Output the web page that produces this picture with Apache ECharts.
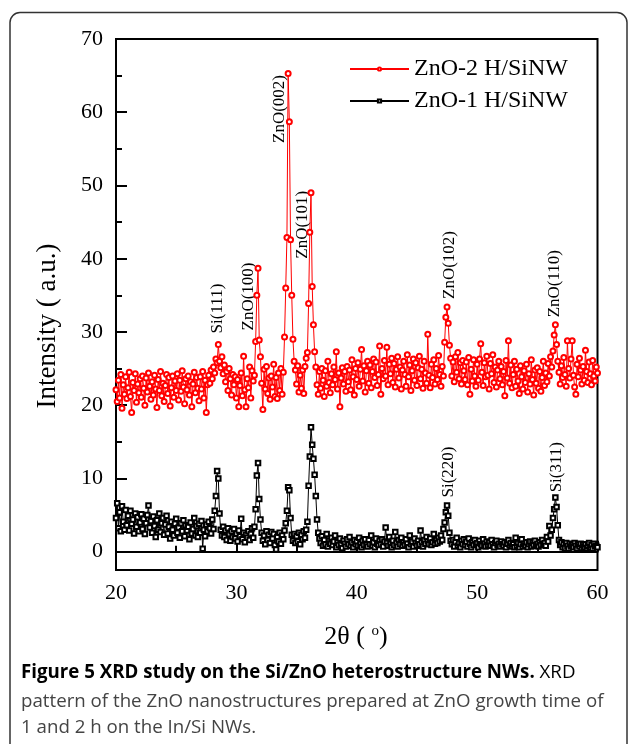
<!DOCTYPE html>
<html><head><meta charset="utf-8">
<script src="https://cdn.jsdelivr.net/npm/echarts@6/dist/echarts.min.js"></script>
<style>html,body{margin:0;padding:0;background:#fff}#c{width:629px;height:744px}</style>
</head><body><div id="c"></div>
<script>
// 2-theta scan: start 20.0 deg, step 0.1 deg
const scanStart = 20.0;
const scanStep = 0.1;
const seriesNames = ['ZnO-2 H/SiNW', 'ZnO-1 H/SiNW'];
// ZnO-2 H/SiNW intensities
const zno2h = [
22.1,20.5,23.4,21.0,24.2,19.6,22.8,21.5,23.9,20.9,
22.4,24.5,21.2,19.0,23.1,22.0,24.3,20.4,22.9,21.7,
23.6,21.1,24.0,22.3,20.0,23.7,21.8,24.4,22.6,20.8,
23.2,21.4,24.1,22.2,19.7,23.5,22.0,24.6,21.3,23.0,
20.5,22.7,24.2,21.6,23.8,19.9,22.4,24.0,21.1,23.3,
22.0,24.3,20.7,23.4,21.9,24.7,22.5,20.2,23.6,22.1,
24.0,21.4,23.2,19.8,22.9,24.5,21.7,23.8,22.3,20.6,
23.9,22.2,24.6,21.0,23.4,19.0,22.8,24.1,23.0,24.8,
23.6,25.2,24.4,26.3,25.8,28.3,26.0,25.1,26.6,24.3,
25.5,23.2,24.6,22.0,25.0,23.6,21.4,24.2,22.8,23.9,
21.0,23.5,19.8,22.7,24.4,21.3,26.7,22.1,19.8,23.6,
22.4,25.2,21.0,24.7,23.3,24.1,28.7,35.0,38.7,28.9,
26.6,23.0,19.4,24.9,22.2,25.3,21.6,23.7,20.8,24.0,
22.5,25.6,21.2,23.8,20.9,24.4,22.0,25.0,21.5,24.5,
29.3,36.0,42.9,65.3,58.7,42.6,35.0,29.0,26.0,24.8,
22.9,25.4,21.8,24.1,22.3,24.8,21.6,25.3,26.4,27.2,
33.9,43.6,49.0,36.2,31.0,27.3,25.2,22.8,21.5,24.6,
22.3,25.0,23.4,21.2,24.7,22.6,26.0,23.1,21.7,24.3,
22.8,25.2,23.5,27.3,22.2,24.4,19.8,23.7,25.1,22.9,
24.6,21.9,25.3,23.2,24.8,22.1,26.2,23.9,21.4,25.0,
23.5,25.8,22.6,24.9,27.6,23.3,25.4,21.8,24.7,26.0,
23.0,25.5,22.4,24.6,26.3,23.8,25.9,22.7,24.2,28.1,
21.5,25.0,23.6,26.1,24.0,27.9,22.8,25.6,24.3,26.4,
23.1,25.7,22.5,24.9,26.6,23.7,25.2,22.2,24.8,26.0,
24.2,22.6,26.9,23.9,25.5,22.0,24.7,26.3,23.4,25.8,
22.7,25.1,26.7,23.6,24.9,22.3,26.0,24.4,23.0,29.7,
24.1,22.4,25.6,23.8,26.2,22.9,25.0,23.5,26.8,24.2,
22.6,25.3,24.0,28.6,32.0,33.4,31.2,28.2,26.4,24.0,
25.9,23.2,26.6,24.5,27.2,23.6,25.8,22.9,26.1,24.7,
23.5,25.9,22.8,26.5,21.5,24.9,23.3,26.2,24.0,22.6,
25.6,23.4,26.3,28.4,24.5,22.7,25.8,23.9,26.7,24.1,
22.2,25.7,24.3,26.9,23.1,25.2,22.5,24.8,26.0,23.6,
25.3,22.8,24.6,21.3,26.1,23.7,28.8,23.0,25.5,22.4,
24.2,26.0,22.6,24.9,23.3,21.6,25.4,23.9,22.2,24.7,
23.1,25.6,21.8,24.3,22.9,26.2,23.5,21.4,24.8,23.0,
25.1,22.3,24.6,21.9,23.8,26.0,22.7,24.4,23.2,25.7,
24.0,26.6,25.2,27.4,29.6,31.0,28.3,26.0,24.5,22.9,
25.4,23.8,26.5,24.2,22.6,28.8,25.0,23.7,26.3,28.8,
24.1,22.5,21.5,25.6,23.9,26.4,24.8,22.9,25.3,23.4,
27.5,24.6,23.1,25.9,24.3,22.8,26.1,24.0,23.3,25.2,
24.4
];
// ZnO-1 H/SiNW intensities
const zno1h = [
4.6,6.6,3.2,5.4,2.8,6.2,4.1,3.0,5.7,3.6,
4.9,2.9,5.6,3.8,4.4,2.5,5.2,3.4,4.7,2.8,
4.0,5.1,3.1,4.5,2.4,3.9,5.0,6.3,3.3,4.2,
2.6,4.8,3.5,2.0,4.3,3.0,5.2,2.7,3.9,4.6,
2.3,3.7,4.9,2.5,3.4,1.8,4.1,3.0,2.2,3.8,
4.5,2.6,3.3,1.9,3.9,2.8,4.3,2.1,3.6,2.9,
3.4,1.7,4.0,2.5,3.1,4.6,2.2,3.5,2.0,3.8,
2.6,4.2,0.4,3.0,2.1,3.7,2.8,4.1,3.2,2.5,
4.4,3.1,5.6,7.6,11.0,10.0,5.2,3.0,2.2,3.4,
2.0,2.9,1.6,3.2,2.4,1.5,2.8,2.0,3.1,1.8,
2.5,1.4,2.9,2.1,4.5,1.7,2.6,1.3,2.3,1.9,
2.8,1.6,2.4,3.2,1.9,3.4,5.8,10.4,12.1,7.2,
4.4,2.6,1.5,2.2,1.0,2.8,1.6,2.3,1.2,2.7,
1.8,2.4,0.9,0.3,2.0,1.4,2.6,1.1,2.2,1.7,
2.9,3.9,5.6,8.8,8.4,4.6,2.3,1.5,2.4,1.2,
2.1,1.4,2.6,1.0,2.3,1.7,2.8,1.9,3.0,4.1,
9.0,13.0,17.0,14.6,12.7,10.5,7.6,4.4,2.6,1.8,
1.2,2.1,0.8,1.6,1.0,2.4,0.7,1.5,1.1,1.9,
0.9,1.4,2.2,0.6,1.3,0.9,1.8,1.0,0.5,1.5,
1.1,0.7,1.7,1.0,2.0,0.8,1.3,0.6,1.6,1.0,
1.4,0.8,1.9,1.1,0.6,1.5,0.9,1.7,1.0,0.7,
1.6,1.0,2.2,0.8,1.3,0.6,1.8,1.1,0.9,1.5,
1.0,1.7,0.7,1.4,3.3,1.2,0.8,2.0,1.1,0.6,
1.5,0.9,2.7,1.2,0.7,1.6,1.0,1.9,0.8,1.3,
0.9,1.7,1.1,0.6,2.2,1.0,1.4,0.7,1.8,1.2,
0.8,1.5,1.0,2.9,1.3,0.7,1.6,1.1,2.0,1.4,
1.0,1.8,0.9,1.3,2.4,1.1,1.6,1.2,1.9,1.4,
2.2,1.6,3.1,4.0,5.4,6.3,4.9,2.6,1.5,1.0,
1.6,0.7,1.3,1.9,0.8,1.2,0.6,1.5,1.0,1.7,
0.9,1.4,0.7,1.8,1.1,0.6,1.3,0.9,1.6,1.0,
1.2,0.6,1.5,1.0,0.8,1.7,1.1,0.7,1.4,0.9,
1.3,0.8,1.6,1.0,0.6,1.2,1.5,0.9,1.1,0.7,
1.4,1.0,0.8,1.3,0.6,1.1,1.6,0.9,1.2,0.7,
1.0,0.6,1.9,0.8,1.2,0.6,1.0,1.7,0.7,1.1,
0.8,1.3,0.6,1.0,1.4,0.7,1.2,0.9,1.5,0.8,
1.1,0.7,1.3,0.9,1.6,1.0,1.2,0.8,2.0,1.4,
3.5,2.2,3.0,4.6,5.8,7.4,6.1,3.6,1.6,0.9,
1.3,0.6,1.0,0.5,1.2,0.8,0.4,1.1,0.7,0.9,
0.6,1.2,0.8,0.4,1.0,0.7,1.1,0.5,0.9,0.6,
1.0,0.5,0.8,1.2,0.6,0.9,0.4,1.1,0.7,0.8,
0.6
];
const xTicks = [20, 30, 40, 50, 60];
const yTicks = [0, 10, 20, 30, 40, 50, 60, 70];
const yMinorTicks = [5, 15, 25, 35, 45, 55, 65];
// peak annotations: text, 2theta, intensity at text start
const peakText = ['Si(111)', 'ZnO(100)', 'ZnO(002)', 'ZnO(101)', 'ZnO(102)', 'ZnO(110)', 'Si(220)', 'Si(311)'];
const peakX    = [28.45, 31.02, 33.6, 35.53, 47.68, 56.46, 47.63, 56.63];
const peakY    = [29.8, 30.2, 55.8, 40.0, 34.5, 32.0, 7.4, 8.1];

const pairs = arr => arr.map((v, i) => [+(scanStart + i * scanStep).toFixed(2), v]);
const serif = 'Liberation Serif';

const chart = echarts.init(document.getElementById('c'), null, {renderer: 'canvas'});
const option = {
  animation: false,
  backgroundColor: '#fff',
  grid: {left: 116, top: 39, width: 481.5, height: 531, show: true, borderColor: '#000', borderWidth: 2, backgroundColor: 'transparent'},
  legend: {
    data: seriesNames, orient: 'vertical', left: 349, top: 57, padding: 0,
    itemWidth: 59, itemHeight: 4, itemGap: 8,
    textStyle: {fontFamily: serif, fontSize: 24, color: '#000', lineHeight: 24}
  },
  xAxis: {
    type: 'value', min: 20, max: 60, interval: 10,
    axisLine: {lineStyle: {color: '#000', width: 2}},
    axisTick: {inside: true, length: 11, lineStyle: {color: '#000', width: 2}},
    minorTick: {show: true, splitNumber: 2, length: 6, lineStyle: {color: '#000', width: 2}},
    axisLabel: {fontFamily: serif, fontSize: 22, color: '#000', margin: 12, customValues: xTicks},
    splitLine: {show: false}
  },
  yAxis: [{
    type: 'value', min: -2.5, max: 70, position: 'left',
    axisLine: {show: true, lineStyle: {color: '#000', width: 2}},
    axisTick: {inside: true, length: 11, lineStyle: {color: '#000', width: 2}, customValues: yTicks},
    axisLabel: {fontFamily: serif, fontSize: 22, color: '#000', margin: 13, customValues: yTicks},
    splitLine: {show: false}
  }, {
    type: 'value', min: -2.5, max: 70, position: 'left', offset: 0,
    axisLine: {show: false},
    axisTick: {show: true, inside: true, length: 6, lineStyle: {color: '#000', width: 2}, customValues: yMinorTicks},
    axisLabel: {show: false},
    splitLine: {show: false}
  }],
  series: [{
    name: seriesNames[0], type: 'line', data: pairs(zno2h), yAxisIndex: 0,
    symbol: 'emptyCircle', symbolSize: 5, showAllSymbol: true,
    lineStyle: {color: '#ff0000', width: 1}, itemStyle: {color: '#ff0000', borderWidth: 1}
  }, {
    name: seriesNames[1], type: 'line', data: pairs(zno1h), yAxisIndex: 0,
    symbol: 'emptyRect', symbolSize: 4.5, showAllSymbol: true,
    lineStyle: {color: '#000', width: 1}, itemStyle: {color: '#000', borderWidth: 1}
  }]
};
chart.setOption(option);

const capFont = 'Open Sans';
const capSize = 18.7;
const graphics = [
  {type: 'rect', shape: {x: 10, y: 12.5, width: 617, height: 800, r: 10}, style: {fill: 'none', stroke: '#333', lineWidth: 1.5}, silent: true},
  {type: 'text', x: 48, y: 326, rotation: Math.PI / 2,
   style: {text: 'Intensity ( a.u.)', font: '27px "Liberation Serif"', fill: '#000', align: 'center', verticalAlign: 'middle'}},
  {type: 'text', x: 356, y: 637,
   style: {text: '{n|2θ ( }{s|o}{n|)}', align: 'center', verticalAlign: 'middle',
     rich: {n: {fontFamily: serif, fontSize: 26, color: '#000'}, s: {fontFamily: serif, fontSize: 15, color: '#000', verticalAlign: 'top', padding: [0, 0, 10, 0]}}}},
  {type: 'text', x: 21, y: 673,
   style: {text: '{b|Figure 5 XRD study on the Si/ZnO heterostructure NWs.}{r| XRD}', verticalAlign: 'middle',
     rich: {b: {fontFamily: capFont, fontWeight: 'bold', fontSize: capSize, color: '#1a1a1a'}, r: {fontFamily: capFont, fontSize: capSize, color: '#444'}}}},
  {type: 'text', x: 21, y: 702,
   style: {text: 'pattern of the ZnO nanostructures prepared at ZnO growth time of', verticalAlign: 'middle', font: capSize + 'px "' + capFont + '"', fill: '#444'}},
  {type: 'text', x: 21, y: 728,
   style: {text: '1 and 2 h on the In/Si NWs.', verticalAlign: 'middle', font: capSize + 'px "' + capFont + '"', fill: '#444'}}
];
peakText.forEach((t, i) => {
  const p = chart.convertToPixel({gridIndex: 0}, [peakX[i], peakY[i]]);
  graphics.push({type: 'text', x: p[0], y: p[1], rotation: Math.PI / 2,
    style: {text: t, font: '17px "Liberation Serif"', fill: '#000', align: 'left', verticalAlign: 'middle'}});
});
chart.setOption({graphic: graphics});
</script>
</body></html>
